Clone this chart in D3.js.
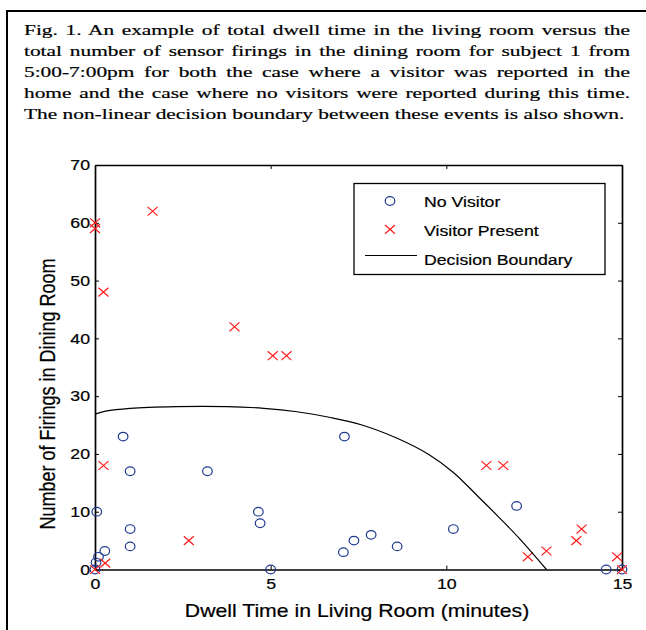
<!DOCTYPE html>
<html>
  <head>
    <title>Dwell time vs dining room firings</title>
    <style>
      body { margin: 0; background: #fff; }
    </style>
  </head>
  <body>
    <script src="https://cdnjs.cloudflare.com/ajax/libs/d3/7.8.5/d3.min.js"></script>
    <script>
      // caption, line by line as it is set in the paper
      let captionLines = [
        'Fig. 1. An example of total dwell time in the living room versus the',
        'total number of sensor firings in the dining room for subject 1 from',
        '5:00-7:00pm for both the case where a visitor was reported in the',
        'home and the case where no visitors were reported during this time.',
        'The non-linear decision boundary between these events is also shown.'
      ];

      let xTicks = [0, 5, 10, 15],
          yTicks = [0, 10, 20, 30, 40, 50, 60, 70];

      // no visitor (circles)
      let noVisitorX = [0, 0.03, 0.1, 0.28, 0.05, 0.8, 1.0, 1.0, 1.0, 3.2, 4.65, 4.7, 5.0, 7.07, 7.1, 7.37, 7.86, 8.6, 10.2, 12.0, 14.55, 15],
          noVisitorY = [0, 1.2, 2.2, 3.2, 10, 23, 17, 7, 4, 17, 10, 8, 0, 3, 23, 5, 6, 4, 7, 11, 0, 0];

      // visitor present (crosses)
      let visitorX = [0, 0, 0, 0.29, 0.24, 0.24, 1.64, 2.67, 3.97, 5.06, 5.45, 11.14, 11.62, 12.32, 12.85, 13.7, 13.85, 14.86, 15],
          visitorY = [0, 60, 59, 1.1, 18, 48, 62, 5, 42, 37, 37, 18, 18, 2.2, 3.2, 5, 7, 2.2, 0];

      // decision boundary
      let boundaryX = [0, 0.3, 1.0, 2.3, 3.75, 4.8, 5.75, 6.7, 7.6, 8.6, 9.5, 10.2, 10.86, 11.52, 12.09, 12.85],
          boundaryY = [26.9, 27.4, 27.9, 28.2, 28.2, 27.9, 27.3, 26.3, 25.0, 22.7, 19.9, 16.8, 12.9, 8.9, 5.3, 0];

      let legendLabels = ['No Visitor', 'Visitor Present', 'Decision Boundary'];

      let sansFont = "'Liberation Sans', Arial, sans-serif",
          serifFont = "'Liberation Serif', 'Times New Roman', serif",
          blue = '#1f3a8f',
          red = '#ff1a1a',
          sx = 1.18; // the figure is slightly stretched horizontally

      let canvas = d3.select('body')
                     .append('svg')
                     .attr('width', 646)
                     .attr('height', 630);

      // outer figure box (runs off the right and bottom of the picture)
      canvas.append('path')
            .attr('d', 'M7,640V11H660')
            .attr('fill', 'none')
            .attr('stroke', 'black')
            .attr('stroke-width', 2);

      // caption, justified
      let capLeft = 24, capRight = 630, capTop = 35, capStep = 21.1;
      let lastLine = canvas.append('text')
                           .attr('font-family', serifFont)
                           .attr('font-size', 15.5)
                           .text(captionLines[4]);
      let capScale = 601 / lastLine.node().getComputedTextLength();
      lastLine.remove();

      captionLines.forEach((line, i) => {
        let t = canvas.append('text')
                      .attr('font-family', serifFont)
                      .attr('font-size', 15.5)
                      .attr('fill', 'black')
                      .attr('stroke', 'black')
                      .attr('stroke-width', 0.2)
                      .attr('transform', `translate(${capLeft},${capTop + i * capStep}) scale(${capScale},1)`)
                      .text(line);
        if (i < captionLines.length - 1) {
          let w = t.node().getComputedTextLength(),
              spaces = line.split(' ').length - 1,
              extra = (capRight - capLeft) / capScale - w;
          t.attr('word-spacing', extra / spaces);
        }
      });

      let xScale = d3.scaleLinear()
                     .domain([0, 15])
                     .range([95, 622]);

      let yScale = d3.scaleLinear()
                     .domain([0, 70])
                     .range([569.5, 165]);

      // axes, ticks pointing inward
      let bottomAxis = canvas.append('g')
                             .attr('transform', `translate(0,${yScale(0)})`)
                             .call(d3.axisBottom(xScale).tickValues(xTicks).tickSizeInner(-4).tickSizeOuter(0).tickPadding(9));
      let leftAxis = canvas.append('g')
                           .attr('transform', `translate(${xScale(0)},0)`)
                           .call(d3.axisLeft(yScale).tickValues(yTicks).tickSizeInner(-4).tickSizeOuter(0).tickPadding(5));
      canvas.append('g')
            .attr('transform', `translate(0,${yScale(70)})`)
            .call(d3.axisTop(xScale).tickValues(xTicks).tickSizeInner(-4).tickSizeOuter(0).tickFormat(''));
      canvas.append('g')
            .attr('transform', `translate(${xScale(15)},0)`)
            .call(d3.axisRight(yScale).tickValues(yTicks).tickSizeInner(-4).tickSizeOuter(0).tickFormat(''));

      canvas.selectAll('.domain')
            .attr('stroke', 'black')
            .attr('stroke-width', 1.7);
      canvas.selectAll('.tick line')
            .attr('stroke', 'black')
            .attr('stroke-width', 1);

      [bottomAxis, leftAxis].forEach((ax) => {
        ax.selectAll('text')
          .attr('font-family', sansFont)
          .attr('font-size', 15)
          .attr('fill', 'black')
          .attr('stroke', 'black')
          .attr('stroke-width', 0.2)
          .each(function () {
            let t = d3.select(this),
                tx = +t.attr('x') || 0,
                ty = +t.attr('y') || 0;
            t.attr('x', 0).attr('y', 0)
             .attr('transform', `translate(${tx},${ty}) scale(${sx},1)`);
          });
      });

      // no visitor circles
      canvas.selectAll('ellipse.nv')
            .data(noVisitorX)
            .enter()
              .append('ellipse')
              .attr('class', 'nv')
              .attr('cx', (d) => xScale(d))
              .attr('cy', (d, i) => yScale(noVisitorY[i]))
              .attr('rx', 4.8)
              .attr('ry', 4.3)
              .attr('fill', 'none')
              .attr('stroke', blue)
              .attr('stroke-width', 1.2);

      let cross = (cx, cy) => `M${cx - 5},${cy - 4.4}L${cx + 5},${cy + 4.4}M${cx - 5},${cy + 4.4}L${cx + 5},${cy - 4.4}`;

      // visitor present crosses
      canvas.selectAll('path.vp')
            .data(visitorX)
            .enter()
              .append('path')
              .attr('class', 'vp')
              .attr('d', (d, i) => cross(xScale(d), yScale(visitorY[i])))
              .attr('fill', 'none')
              .attr('stroke', red)
              .attr('stroke-width', 1.2);

      // decision boundary
      let boundaryLine = d3.line()
                           .x((d) => xScale(d))
                           .y((d, i) => yScale(boundaryY[i]))
                           .curve(d3.curveCatmullRom.alpha(0.5));

      canvas.append('path')
            .attr('d', boundaryLine(boundaryX))
            .attr('fill', 'none')
            .attr('stroke', 'black')
            .attr('stroke-width', 1.2);

      // axis titles
      canvas.append('text')
            .attr('font-family', sansFont)
            .attr('font-size', 18)
            .attr('text-anchor', 'middle')
            .attr('stroke', 'black')
            .attr('stroke-width', 0.2)
            .attr('transform', `translate(357,616.5) scale(${sx},1)`)
            .text('Dwell Time in Living Room (minutes)');

      canvas.append('text')
            .attr('font-family', sansFont)
            .attr('font-size', 18)
            .attr('text-anchor', 'middle')
            .attr('stroke', 'black')
            .attr('stroke-width', 0.2)
            .attr('transform', `translate(55,394) rotate(-90) scale(1,${sx})`)
            .text('Number of Firings in Dining Room');

      // legend
      let legend = canvas.append('g');
      legend.append('rect')
            .attr('x', 354)
            .attr('y', 183.5)
            .attr('width', 251)
            .attr('height', 91)
            .attr('fill', 'white')
            .attr('stroke', 'black')
            .attr('stroke-width', 1.3);

      let rowBase = [207.3, 235.9, 265];
      legendLabels.forEach((label, i) => {
        legend.append('text')
              .attr('font-family', sansFont)
              .attr('font-size', 15)
              .attr('fill', 'black')
              .attr('stroke', 'black')
              .attr('stroke-width', 0.2)
              .attr('transform', `translate(424,${rowBase[i]}) scale(${sx},1)`)
              .text(label);
      });
      legend.append('ellipse')
            .attr('cx', 390).attr('cy', rowBase[0] - 6.3)
            .attr('rx', 4.8).attr('ry', 4.3)
            .attr('fill', 'none')
            .attr('stroke', blue)
            .attr('stroke-width', 1.2);
      legend.append('path')
            .attr('d', cross(390, rowBase[1] - 6.5))
            .attr('fill', 'none')
            .attr('stroke', red)
            .attr('stroke-width', 1.2);
      legend.append('line')
            .attr('x1', 365).attr('x2', 417)
            .attr('y1', rowBase[2] - 9.5).attr('y2', rowBase[2] - 9.5)
            .attr('stroke', 'black')
            .attr('stroke-width', 1.2);
    </script>
  </body>
</html>
